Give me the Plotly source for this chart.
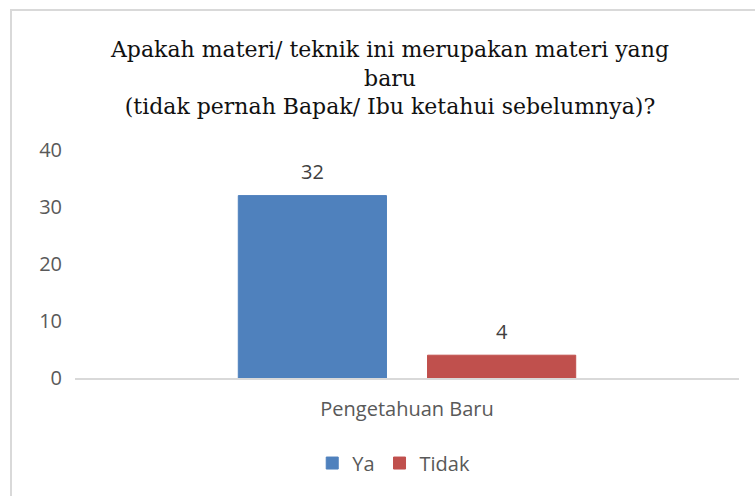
import plotly.graph_objects as go

categories = ["Pengetahuan Baru"]
series_names = ["Ya", "Tidak"]
ya_values = [32]
tidak_values = [4]
colors = ["#4F81BD", "#C0504D"]
y_ticks = [0, 10, 20, 30, 40]

title_text = ("Apakah materi/ teknik ini merupakan materi yang<br>baru<br>"
              "(tidak pernah Bapak/ Ibu ketahui sebelumnya)?")

BARGAP = 0.43
BARGROUPGAP = 0.217
SANS = "Open Sans"
GRAY = "#595959"

fig = go.Figure()
series_vals = [ya_values, tidak_values]
for name, vals, col in zip(series_names, series_vals, colors):
    fig.add_trace(go.Bar(
        x=categories, y=vals, name=name,
        marker=dict(color=col, line=dict(color=col, width=1)),
    ))

# data labels above the bars, placed at each bar's centre
slot = (1 - BARGAP) / len(series_names)
annotations = []
for k, vals in enumerate(series_vals):
    off = -(1 - BARGAP) / 2 + slot * (k + 0.5)
    for i, v in enumerate(vals):
        annotations.append(dict(
            x=i + off, y=v, xref="x", yref="y", text=str(v), showarrow=False,
            yanchor="middle", yshift=24,
            font=dict(family=SANS, size=20, color="#404040"),
        ))

fig.update_layout(
    width=755, height=496,
    margin=dict(l=75, r=16, t=150, b=118),
    paper_bgcolor="white", plot_bgcolor="white",
    bargap=BARGAP, bargroupgap=BARGROUPGAP,
    title=dict(text=title_text, x=390 / 755, xanchor="center",
               y=1 - 57 / 496, yanchor="middle",
               font=dict(family="DejaVu Serif, serif", size=22, color="#111111")),
    showlegend=True,
    legend=dict(orientation="h", x=0.48, xanchor="center", y=-0.373, yanchor="middle",
                font=dict(family=SANS, size=20, color=GRAY), itemwidth=30,
                traceorder="normal"),
    annotations=annotations,
    shapes=[dict(type="rect", xref="paper", yref="paper",
                 x0=(11 - 75) / 664, x1=(800 - 75) / 664,
                 y0=(378 - 560) / 228, y1=1 + (150 - 10) / 228,
                 line=dict(color="#d9d9d9", width=2), fillcolor="rgba(0,0,0,0)",
                 layer="below")],
)
fig.update_yaxes(range=[0, 40], tickvals=y_ticks, showgrid=False, zeroline=False,
                 showline=False, ticks="", ticklabelstandoff=12,
                 tickfont=dict(family=SANS, size=20, color=GRAY))
fig.update_xaxes(showline=True, linecolor="#d9d9d9", linewidth=2, ticks="",
                 showgrid=False, ticklabelstandoff=12,
                 tickfont=dict(family=SANS, size=20, color=GRAY))

fig.write_html("out.html")
